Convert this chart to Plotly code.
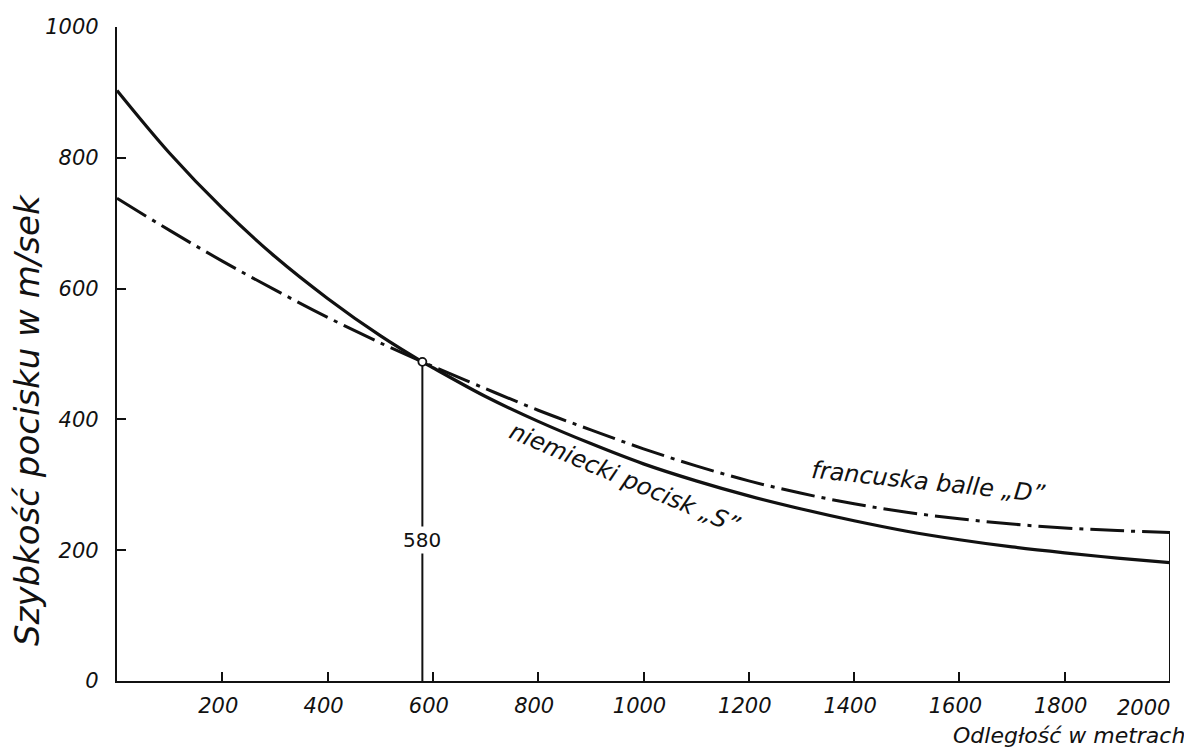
import plotly.graph_objects as go

# Distance (m)
distance = [0, 100, 200, 300, 400, 500, 580, 600, 700, 800, 900, 1000, 1100, 1200,
            1300, 1400, 1500, 1600, 1700, 1800, 1900, 2000]
# German bullet "S" (solid)
v_german_S = [903, 807, 723, 649, 585, 528, 488, 479, 435, 397, 363, 332, 306, 283,
              263, 245, 229, 216, 205, 196, 188, 181]
# French balle "D" (dash-dot)
v_french_D = [738, 689, 642, 598, 556, 517, 488, 481, 447, 414, 384, 355, 329, 306,
              287, 271, 258, 248, 240, 234, 230, 227]

cross_x = 580
cross_v = 488

x_ticks = [200, 400, 600, 800, 1000, 1200, 1400, 1600, 1800, 2000]
y_ticks = [0, 200, 400, 600, 800, 1000]

FONT = "DejaVu Sans"
ink = "#111111"

fig = go.Figure()

fig.add_trace(go.Scatter(x=distance, y=v_french_D, mode="lines",
                         line=dict(color=ink, width=3, dash="34px,7px,4px,7px"),
                         line_shape="spline", showlegend=False, hoverinfo="skip"))
fig.add_trace(go.Scatter(x=distance, y=v_german_S, mode="lines",
                         line=dict(color=ink, width=3.2),
                         line_shape="spline", showlegend=False, hoverinfo="skip"))

# vertical line at crossing
fig.add_shape(type="line", x0=cross_x, x1=cross_x, y0=0, y1=cross_v,
              line=dict(color=ink, width=2), layer="below")
# right closing line at 2000
fig.add_shape(type="line", x0=distance[-1], x1=distance[-1], y0=0, y1=v_french_D[-1],
              line=dict(color=ink, width=2))

fig.add_trace(go.Scatter(x=[cross_x], y=[cross_v], mode="markers",
                         marker=dict(size=8, color="white", line=dict(color=ink, width=1.8)),
                         showlegend=False, hoverinfo="skip"))

fig.add_annotation(x=cross_x, y=215, text="580", showarrow=False,
                   font=dict(family=FONT, size=20, color=ink), bgcolor="white",
                   xanchor="center", yanchor="middle")

fig.add_annotation(x=963, y=310, text="niemiecki pocisk „S”", showarrow=False,
                   textangle=23, font=dict(family=FONT, size=24, color=ink, style="italic"),
                   xanchor="center", yanchor="middle")
fig.add_annotation(x=1542, y=305, text="francuska balle „D”", showarrow=False,
                   textangle=6, font=dict(family=FONT, size=24, color=ink, style="italic"),
                   xanchor="center", yanchor="middle")

# last x tick label (kept inside the page, like the reference)
fig.add_annotation(x=x_ticks[-1], y=0, yref="y", text="<i>" + str(x_ticks[-1]) + "</i>",
                   showarrow=False, xanchor="right", yanchor="top", yshift=-13, xshift=2,
                   font=dict(family=FONT, size=21, color=ink, style="italic"))

# axis titles
fig.add_annotation(xref="paper", yref="paper", x=-0.0855, y=0.399, text="Szybkość pocisku w m/sek",
                   showarrow=False, textangle=-90,
                   font=dict(family=FONT, size=34, color=ink, style="italic"),
                   xanchor="center", yanchor="middle")
fig.add_annotation(xref="paper", yref="paper", x=1.016, y=-0.084, text="Odległość w metrach",
                   showarrow=False,
                   font=dict(family=FONT, size=22, color=ink, style="italic"),
                   xanchor="right", yanchor="middle")

# page body adds an 8px offset, so the figure is 8px smaller than the window
fig.update_layout(
    width=1184, height=743,
    margin=dict(l=109, r=22, t=19, b=70),
    paper_bgcolor="white", plot_bgcolor="white",
    font=dict(family=FONT, color=ink),
)
fig.update_xaxes(range=[0, 2000], tickvals=x_ticks[:-1], ticktext=[str(v) for v in x_ticks[:-1]],
                 showgrid=False, zeroline=False, showline=True, linecolor=ink, linewidth=2.2,
                 ticks="inside", ticklen=9, tickwidth=2, tickcolor=ink, automargin=False,
                 tickfont=dict(family=FONT, size=21, color=ink, style="italic"),
                 ticklabelstandoff=5, ticklabelshift=-4)
fig.update_yaxes(range=[0, 1000], tickvals=y_ticks, ticktext=[str(v) for v in y_ticks],
                 showgrid=False, zeroline=False, showline=True, linecolor=ink, linewidth=2.2,
                 ticks="inside", ticklen=9, tickwidth=2, tickcolor=ink, automargin=False,
                 tickfont=dict(family=FONT, size=21, color=ink, style="italic"),
                 ticklabelstandoff=12)

fig.write_html("out.html")
